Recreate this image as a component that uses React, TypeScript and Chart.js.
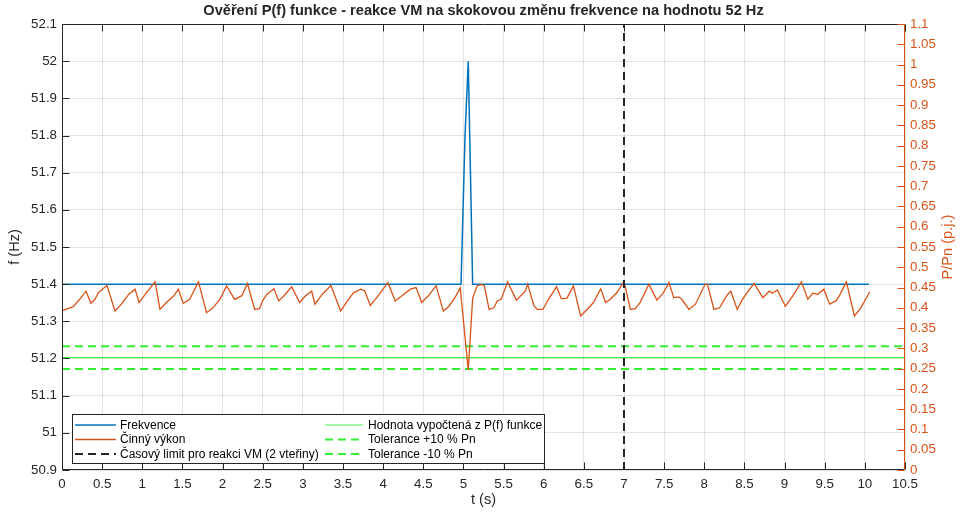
import React, { useEffect, useRef } from "react";
import { Chart, registerables } from "chart.js";

Chart.register(...registerables);

const FONT = "'Liberation Sans', Arial, Helvetica, sans-serif";
const DARK = "#262626";
const BLUE = "#0072BD";
const ORANGE = "#D95319";
const GREEN = "#33EE33";
const GREEN_LIGHT = "#4CEE4C";
const GRID = "rgba(38,38,38,0.13)";

const chartTitle = "Ověření P(f) funkce - reakce VM na skokovou změnu frekvence na hodnotu 52 Hz";
const xAxisLabel = "t (s)";
const leftAxisLabel = "f (Hz)";
const rightAxisLabel = "P/Pn (p.j.)";

// axis ranges / tick steps
const xRange = [0, 10.5];
const xStep = 0.5;
const freqRange = [50.9, 52.1];
const freqStep = 0.1;
const powerRange = [0, 1.1];
const powerStep = 0.05;

// Frekvence (Hz)
const freqTime = [0, 4.97, 5.02, 5.06, 5.115, 10.05];
const freqValues = [51.4, 51.4, 51.8, 52.0, 51.4, 51.4];

// Činný výkon (p.j.)
const powerTime = [
  0.0, 0.14, 0.22, 0.3, 0.36, 0.41, 0.46, 0.56, 0.66, 0.74, 0.83, 0.91, 0.96, 1.05, 1.16, 1.22,
  1.3, 1.39, 1.45, 1.51, 1.59, 1.7, 1.8, 1.88, 1.97, 2.05, 2.15, 2.24, 2.31, 2.4, 2.46, 2.5,
  2.55, 2.64, 2.7, 2.78, 2.86, 2.96, 3.03, 3.11, 3.15, 3.24, 3.35, 3.47, 3.54, 3.63, 3.72, 3.77,
  3.84, 3.92, 4.06, 4.15, 4.23, 4.34, 4.41, 4.48, 4.56, 4.66, 4.75, 4.82, 4.9, 4.96, 5.06, 5.115,
  5.17, 5.23, 5.26, 5.32, 5.38, 5.42, 5.47, 5.55, 5.66, 5.77, 5.8, 5.88, 5.92, 5.99, 6.06, 6.16,
  6.22, 6.29, 6.37, 6.46, 6.54, 6.62, 6.71, 6.77, 6.83, 6.91, 7.0, 7.08, 7.14, 7.2, 7.31, 7.41,
  7.49, 7.56, 7.62, 7.68, 7.72, 7.81, 7.89, 8.01, 8.04, 8.12, 8.19, 8.29, 8.33, 8.41, 8.47, 8.53,
  8.62, 8.73, 8.81, 8.85, 8.91, 9.01, 9.1, 9.21, 9.29, 9.35, 9.41, 9.49, 9.56, 9.64, 9.68, 9.77,
  9.87, 9.95, 10.06,
];
const powerValues = [
  0.393, 0.403, 0.421, 0.441, 0.411, 0.421, 0.439, 0.455, 0.392, 0.409, 0.433, 0.446, 0.413, 0.437, 0.464, 0.396,
  0.413, 0.429, 0.446, 0.411, 0.421, 0.464, 0.388, 0.4, 0.422, 0.454, 0.421, 0.43, 0.46, 0.396, 0.398, 0.418,
  0.433, 0.447, 0.417, 0.433, 0.452, 0.413, 0.429, 0.441, 0.409, 0.433, 0.455, 0.392, 0.413, 0.437, 0.446, 0.442,
  0.406, 0.425, 0.462, 0.417, 0.429, 0.446, 0.45, 0.413, 0.429, 0.454, 0.392, 0.404, 0.427, 0.449, 0.247, 0.424,
  0.454, 0.458, 0.454, 0.396, 0.4, 0.417, 0.421, 0.464, 0.419, 0.441, 0.458, 0.404, 0.396, 0.396, 0.421, 0.452,
  0.422, 0.424, 0.454, 0.38, 0.396, 0.413, 0.447, 0.413, 0.421, 0.437, 0.465, 0.396, 0.398, 0.413, 0.458, 0.419,
  0.437, 0.462, 0.425, 0.427, 0.421, 0.396, 0.409, 0.458, 0.458, 0.396, 0.4, 0.433, 0.441, 0.396, 0.419, 0.437,
  0.46, 0.425, 0.441, 0.436, 0.444, 0.404, 0.429, 0.464, 0.421, 0.436, 0.433, 0.446, 0.409, 0.417, 0.429, 0.464,
  0.38, 0.4, 0.439,
];

// reference levels (p.j.)
const refTime = [0, 10.5];
const pfValue = [0.277, 0.277];
const tolPlus = [0.305, 0.305];
const tolMinus = [0.249, 0.249];

// time limit line
const limitTime = [7, 7];
const limitFreq = [50.9, 52.1];

const legendLabels = [
  "Frekvence",
  "Činný výkon",
  "Časový limit pro reakci VM (2 vteřiny)",
  "Hodnota vypočtená z P(f) funkce",
  "Tolerance +10 % Pn",
  "Tolerance -10 % Pn",
];
const seriesColors = [BLUE, ORANGE, DARK, GREEN_LIGHT, GREEN, GREEN];
const seriesWidths = [1.5, 1.3, 2, 1.2, 2, 2];
const seriesDash: number[][] = [[], [], [8, 5], [], [8, 5], [8, 5]];

const pts = (xs: number[], ys: number[]) => xs.map((x, i) => ({ x, y: ys[i] }));
const fmt = (v: any) => String(Number(Number(v).toFixed(3)));

const decorPlugin = {
  id: "decor",
  afterDraw(chart: any) {
    const { ctx, chartArea: a, scales } = chart;
    const L = Math.round(a.left) + 0.5;
    const R = Math.round(a.right) - 0.5;
    const T = Math.round(a.top) + 0.5;
    const B = Math.round(a.bottom) - 0.5;
    const tl = 7;
    ctx.save();
    ctx.setLineDash([]);
    ctx.lineWidth = 1;
    ctx.strokeStyle = DARK;
    ctx.beginPath();
    ctx.moveTo(R, T);
    ctx.lineTo(L, T);
    ctx.lineTo(L, B);
    ctx.lineTo(R, B);
    ctx.stroke();
    scales.x.ticks.forEach((t: any) => {
      const px = Math.round(scales.x.getPixelForValue(t.value)) + 0.5;
      ctx.beginPath();
      ctx.moveTo(px, B);
      ctx.lineTo(px, B - tl);
      ctx.moveTo(px, T);
      ctx.lineTo(px, T + tl);
      ctx.stroke();
    });
    scales.y.ticks.forEach((t: any) => {
      const py = Math.round(scales.y.getPixelForValue(t.value)) + 0.5;
      ctx.beginPath();
      ctx.moveTo(L, py);
      ctx.lineTo(L + tl, py);
      ctx.stroke();
    });
    ctx.strokeStyle = ORANGE;
    ctx.beginPath();
    ctx.moveTo(R, T);
    ctx.lineTo(R, B);
    ctx.stroke();
    scales.y1.ticks.forEach((t: any) => {
      const py = Math.round(scales.y1.getPixelForValue(t.value)) + 0.5;
      ctx.beginPath();
      ctx.moveTo(R, py);
      ctx.lineTo(R - tl, py);
      ctx.stroke();
    });

    const cx = (a.left + a.right) / 2;
    const cy = (a.top + a.bottom) / 2;
    ctx.fillStyle = DARK;
    ctx.textAlign = "center";
    ctx.textBaseline = "middle";
    ctx.font = `bold 14.6px ${FONT}`;
    ctx.fillText(chartTitle, cx, 10.5);
    ctx.font = `14.6px ${FONT}`;
    ctx.fillText(xAxisLabel, cx, 500);
    ctx.save();
    ctx.translate(15, cy);
    ctx.rotate(-Math.PI / 2);
    ctx.fillText(leftAxisLabel, 0, 0);
    ctx.restore();
    ctx.save();
    ctx.fillStyle = ORANGE;
    ctx.translate(948, cy);
    ctx.rotate(-Math.PI / 2);
    ctx.fillText(rightAxisLabel, 0, 0);
    ctx.restore();

    // legend
    const bx = 72.5, by = 414.5, bw = 472, bh = 49;
    ctx.fillStyle = "#ffffff";
    ctx.fillRect(bx, by, bw, bh);
    ctx.strokeStyle = DARK;
    ctx.lineWidth = 1;
    ctx.strokeRect(bx, by, bw, bh);
    const rowsY = [425, 439.5, 454];
    const colX = [[75, 116, 120], [325, 363, 368]];
    ctx.font = `12px ${FONT}`;
    ctx.textAlign = "left";
    ctx.textBaseline = "middle";
    legendLabels.forEach((label, i) => {
      const c = colX[Math.floor(i / 3)];
      const y = rowsY[i % 3];
      ctx.strokeStyle = seriesColors[i];
      ctx.lineWidth = seriesWidths[i];
      ctx.setLineDash(seriesDash[i]);
      ctx.beginPath();
      ctx.moveTo(c[0], y);
      ctx.lineTo(c[1], y);
      ctx.stroke();
      ctx.setLineDash([]);
      ctx.fillStyle = "#000000";
      ctx.fillText(label, c[2], y + 0.5);
    });
    ctx.restore();
  },
};

export default function App() {
  const ref = useRef<HTMLCanvasElement | null>(null);
  useEffect(() => {
    if (!ref.current) return;
    const tickFont = { family: FONT, size: 13.3 };
    const mk = (i: number, data: any[], axis: string, order: number) => ({
      label: legendLabels[i],
      data,
      yAxisID: axis,
      borderColor: seriesColors[i],
      borderWidth: seriesWidths[i],
      borderDash: seriesDash[i],
      pointRadius: 0,
      order,
    });
    const chart = new Chart(ref.current, {
      type: "line",
      data: {
        datasets: [
          mk(0, pts(freqTime, freqValues), "y", 2),
          mk(1, pts(powerTime, powerValues), "y1", 1),
          mk(2, pts(limitTime, limitFreq), "y", 0),
          mk(3, pts(refTime, pfValue), "y1", 3),
          mk(4, pts(refTime, tolPlus), "y1", 3),
          mk(5, pts(refTime, tolMinus), "y1", 3),
        ],
      },
      options: {
        animation: false,
        responsive: false,
        events: [],
        layout: { padding: { top: 24, left: 0, right: 0, bottom: 0 } },
        plugins: { legend: { display: false }, title: { display: false }, tooltip: { enabled: false } },
        scales: {
          x: {
            type: "linear",
            min: xRange[0],
            max: xRange[1],
            afterFit: (s: any) => {
              s.height = 48;
            },
            ticks: {
              stepSize: xStep,
              autoSkip: false,
              maxRotation: 0,
              padding: 6,
              color: DARK,
              font: tickFont,
              callback: fmt,
            },
            grid: { color: GRID, drawTicks: false },
            border: { display: false },
          },
          y: {
            type: "linear",
            position: "left",
            min: freqRange[0],
            max: freqRange[1],
            afterFit: (s: any) => {
              s.width = 62;
            },
            ticks: {
              stepSize: freqStep,
              autoSkip: false,
              padding: 5,
              color: DARK,
              font: tickFont,
              callback: fmt,
            },
            grid: { color: GRID, drawTicks: false },
            border: { display: false },
          },
          y1: {
            type: "linear",
            position: "right",
            min: powerRange[0],
            max: powerRange[1],
            afterFit: (s: any) => {
              s.width = 59;
            },
            ticks: {
              stepSize: powerStep,
              autoSkip: false,
              padding: 5,
              color: ORANGE,
              font: tickFont,
              callback: fmt,
            },
            grid: { display: false, drawTicks: false },
            border: { display: false },
          },
        },
      },
      plugins: [decorPlugin],
    } as any);
    return () => chart.destroy();
  }, []);
  return (
    <div style={{ position: "fixed", left: 0, top: 0, width: 964, height: 518, background: "#fff" }}>
      <canvas ref={ref} width={964} height={518} style={{ display: "block" }} />
    </div>
  );
}
